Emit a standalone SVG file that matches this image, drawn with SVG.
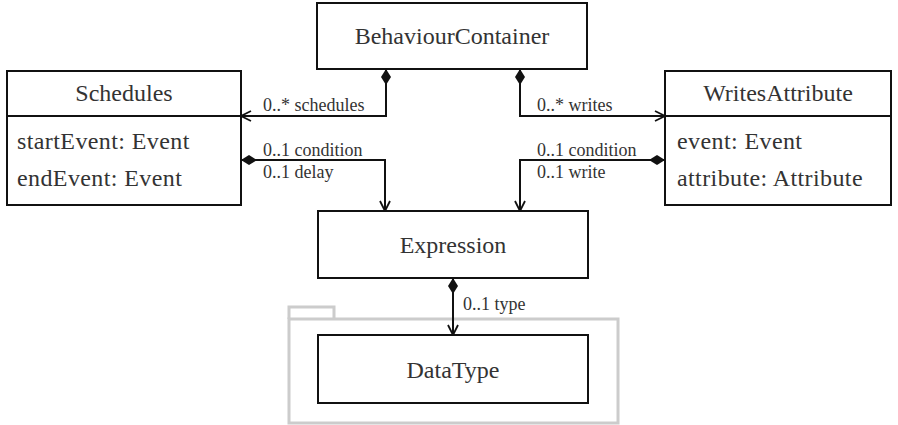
<svg xmlns="http://www.w3.org/2000/svg" width="898" height="425" viewBox="0 0 898 425">
<defs>
<marker id="arr" viewBox="0 0 12 12" refX="11" refY="6" markerWidth="12" markerHeight="12" markerUnits="userSpaceOnUse" orient="auto">
<path d="M1,1 L11,6 L1,11" fill="none" stroke="#111" stroke-width="1.8"/>
</marker>
<marker id="dia" viewBox="0 0 16 10" refX="0" refY="5" markerWidth="16" markerHeight="10" markerUnits="userSpaceOnUse" orient="auto">
<path d="M0,5 L8,0 L16,5 L8,10 Z" fill="#111"/>
</marker>
</defs>
<style>
.box{fill:#fff;stroke:#111;stroke-width:2}
.t{font-family:"Liberation Serif","DejaVu Serif",serif;fill:#333}
.n{font-size:24px;text-anchor:middle}
.a{font-size:24px;letter-spacing:0.4px}
.l{font-size:18px}
.c{fill:none;stroke:#111;stroke-width:2}
.pkg{fill:none;stroke:#ccc;stroke-width:3}
</style>
<g id="package">
<path class="pkg" d="M289,319 V307 H334 V319"/>
<rect class="pkg" x="289" y="319" width="329" height="104"/>
</g>
<g id="BehaviourContainer">
<rect class="box" x="317" y="3" width="270" height="66"/>
<text class="t n" x="452" y="44">BehaviourContainer</text>
</g>
<g id="Schedules">
<rect class="box" x="7" y="71" width="234" height="134"/>
<line class="box" x1="7" y1="116" x2="241" y2="116"/>
<text class="t n" x="124" y="101">Schedules</text>
<text class="t a" x="17" y="149">startEvent: Event</text>
<text class="t a" x="17" y="186">endEvent: Event</text>
</g>
<g id="WritesAttribute">
<rect class="box" x="665" y="71" width="226" height="134"/>
<line class="box" x1="665" y1="116" x2="891" y2="116"/>
<text class="t n" x="778" y="101">WritesAttribute</text>
<text class="t a" x="677" y="149">event: Event</text>
<text class="t a" x="677" y="186">attribute: Attribute</text>
</g>
<g id="Expression">
<rect class="box" x="318" y="211" width="270" height="67"/>
<text class="t n" x="453" y="253">Expression</text>
</g>
<g id="DataType">
<rect class="box" x="318" y="335" width="270" height="68"/>
<text class="t n" x="453" y="378">DataType</text>
</g>
<g id="connectors">
<path class="c" d="M386,69 V116 H241" marker-start="url(#dia)" marker-end="url(#arr)"/>
<path class="c" d="M520,69 V116 H665" marker-start="url(#dia)" marker-end="url(#arr)"/>
<path class="c" d="M241,160 H385 V211" marker-start="url(#dia)" marker-end="url(#arr)"/>
<path class="c" d="M665,160 H520 V211" marker-start="url(#dia)" marker-end="url(#arr)"/>
<path class="c" d="M453,278 V335" marker-start="url(#dia)" marker-end="url(#arr)"/>
<text class="t l" x="263" y="111">0..* schedules</text>
<text class="t l" x="263" y="156">0..1 condition</text>
<text class="t l" x="263" y="178">0..1 delay</text>
<text class="t l" x="537" y="111">0..* writes</text>
<text class="t l" x="537" y="156">0..1 condition</text>
<text class="t l" x="537" y="178">0..1 write</text>
<text class="t l" x="463" y="310">0..1 type</text>
</g>
</svg>
